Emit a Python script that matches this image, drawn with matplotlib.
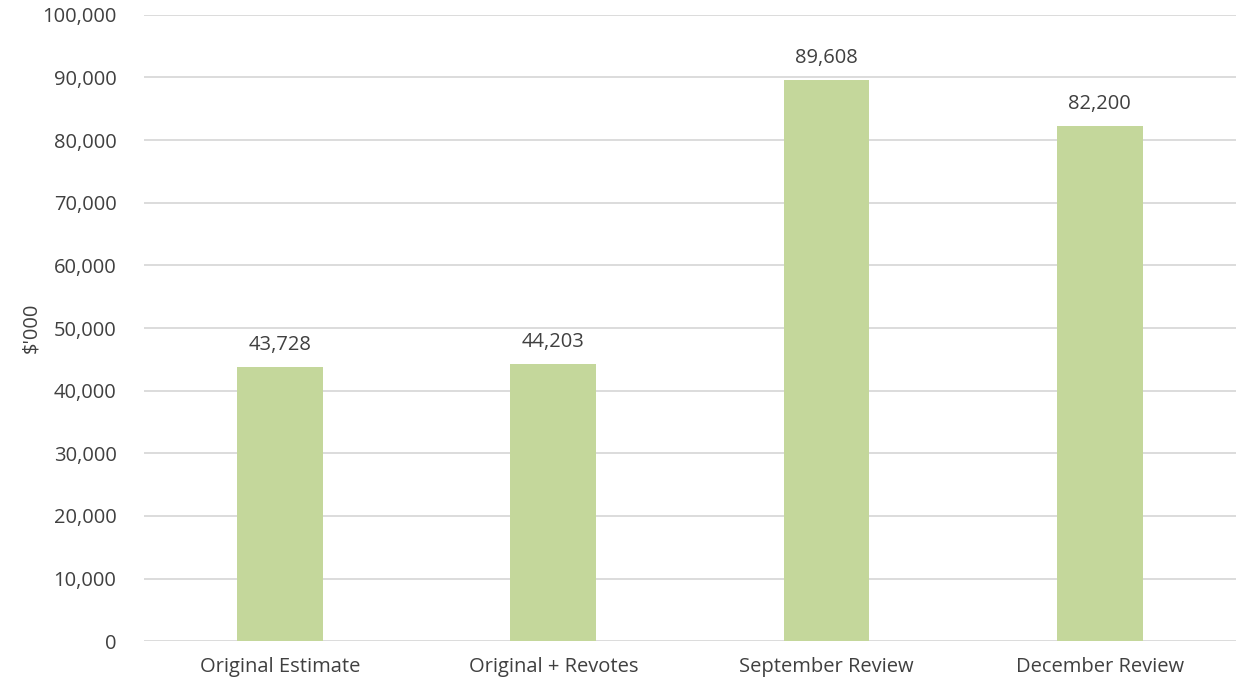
import matplotlib
matplotlib.use("Agg")
import matplotlib.pyplot as plt
from matplotlib.ticker import FuncFormatter

categories = ["Original Estimate", "Original + Revotes", "September Review", "December Review"]
values = [43728, 44203, 89608, 82200]
y_ticks = [0, 10000, 20000, 30000, 40000, 50000, 60000, 70000, 80000, 90000, 100000]

plt.rcParams['font.family'] = ['Open Sans', 'DejaVu Sans']
text_color = '#404040'

fig = plt.figure(figsize=(12.36, 6.9), dpi=100)
ax = fig.add_axes([0.1162, 0.0706, 0.884, 0.908])

x = range(len(categories))
bars = ax.bar(x, values, width=0.314, color='#C4D79B', zorder=3)

# labels sit about 17px above each bar
for bar, v in zip(bars, values):
    ax.text(bar.get_x() + bar.get_width() / 2, v + 2700, f"{v:,}",
            ha='center', va='baseline', fontsize=14.5, color=text_color)

ax.set_xlim(-0.5, len(categories) - 0.5)
ax.set_ylim(0, 100000)
ax.set_yticks(y_ticks)
ax.yaxis.set_major_formatter(FuncFormatter(lambda v, p: f"{int(v):,}"))
ax.set_xticks(list(x))
ax.set_xticklabels(categories)
ax.grid(axis='y', color='#D9D9D9', linewidth=1.3, zorder=0)
ax.tick_params(length=0, labelsize=14.5, labelcolor=text_color)
ax.tick_params(axis='x', pad=11)
ax.tick_params(axis='y', pad=19.5)
for s in ax.spines.values():
    s.set_visible(False)

fig.text(31 / 1236, 1 - 328 / 690, "$'000", rotation=90, ha='center', va='center',
         fontsize=14.5, color=text_color)

fig.savefig("out.png", dpi=100)
